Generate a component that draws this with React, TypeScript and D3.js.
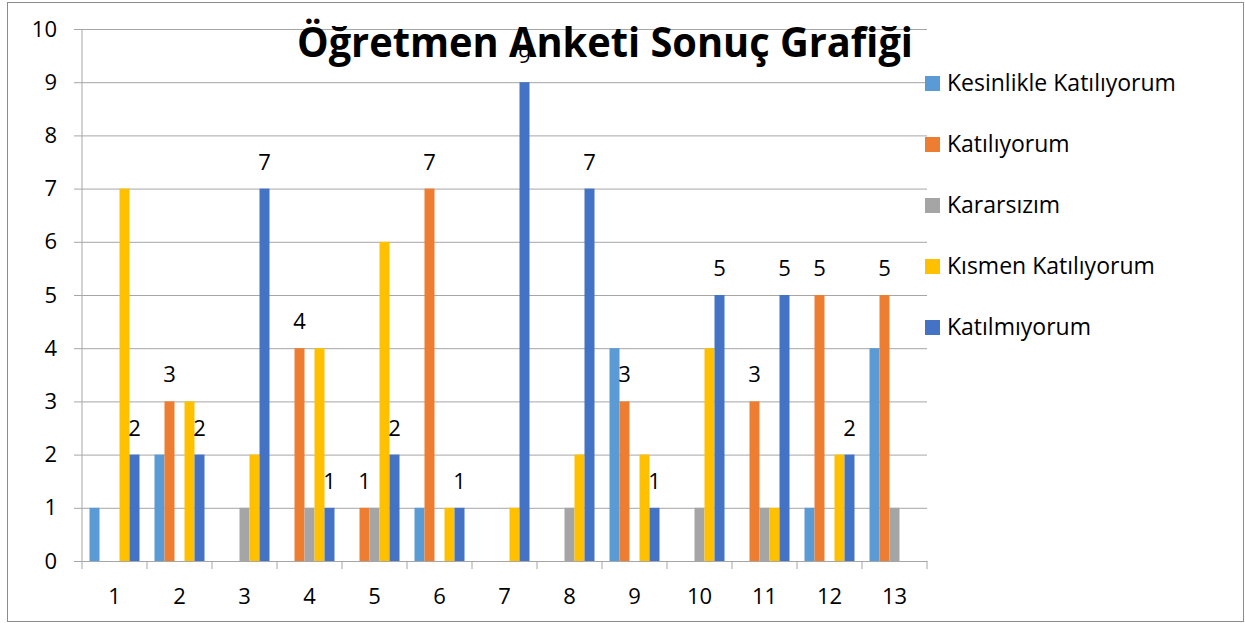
import React, { useEffect, useRef } from "react";
import * as d3 from "d3";

// kategoriler (soru numaraları)
const categories = ["1", "2", "3", "4", "5", "6", "7", "8", "9", "10", "11", "12", "13"];

const seriesNames = [
  "Kesinlikle Katılıyorum",
  "Katılıyorum",
  "Kararsızım",
  "Kısmen Katılıyorum",
  "Katılmıyorum",
];

const kesinlikleKatiliyorum = [1, 2, 0, 0, 0, 1, 0, 0, 4, 0, 0, 1, 4];
const katiliyorum = [0, 3, 0, 4, 1, 7, 0, 0, 3, 0, 3, 5, 5];
const kararsizim = [0, 0, 1, 1, 1, 0, 0, 1, 0, 1, 1, 0, 1];
const kismenKatiliyorum = [7, 3, 2, 4, 6, 1, 1, 2, 2, 4, 1, 2, 0];
const katilmiyorum = [2, 2, 7, 1, 2, 1, 9, 7, 1, 5, 5, 2, 0];

const yTicks = [0, 1, 2, 3, 4, 5, 6, 7, 8, 9, 10];

// sadece bu serilerde veri etiketi var
const labelledSeries = ["Katılıyorum", "Katılmıyorum"];

const colors = ["#5B9BD5", "#ED7D31", "#A5A5A5", "#FFC000", "#4472C4"];

const App = () => {
  const svgRef = useRef<SVGSVGElement>(null);

  useEffect(() => {
    document.body.style.margin = "0";
    const W = 1245;
    const H = 623;
    const plot = { left: 82, right: 927, top: 29, bottom: 561 };
    const font = "'Open Sans', sans-serif";
    const grid = "#A6A6A6";

    const values = [kesinlikleKatiliyorum, katiliyorum, kararsizim, kismenKatiliyorum, katilmiyorum];

    const svg = d3.select(svgRef.current);
    svg.selectAll("*").remove();
    svg.attr("width", W).attr("height", H);

    svg
      .append("rect")
      .attr("x", 7.5)
      .attr("y", 2.5)
      .attr("width", W - 9)
      .attr("height", 619)
      .attr("fill", "white")
      .attr("stroke", "#8C8C8C")
      .attr("stroke-width", 1);

    const x0 = d3.scaleBand().domain(categories).range([plot.left, plot.right]).padding(0);
    const x1 = d3
      .scaleBand()
      .domain(seriesNames)
      .range([7.5, x0.bandwidth() - 7.5])
      .padding(0);
    const y = d3.scaleLinear().domain([0, 10]).range([plot.bottom, plot.top]);

    // yatay ızgara çizgileri + y ekseni
    svg
      .append("g")
      .attr("transform", `translate(${plot.left},0)`)
      .call(d3.axisLeft(y).tickValues(yTicks).tickSize(8).tickPadding(17).tickFormat(d3.format("d")))
      .call((g) => g.select(".domain").remove())
      .call((g) =>
        g
          .selectAll(".tick line")
          .attr("stroke", grid)
          .attr("x1", -8)
          .attr("x2", plot.right - plot.left)
      )
      .call((g) =>
        g
          .selectAll(".tick text")
          .attr("font-family", font)
          .attr("font-size", 22)
          .attr("fill", "#000")
      );

    svg
      .append("line")
      .attr("x1", plot.left)
      .attr("x2", plot.left)
      .attr("y1", plot.top)
      .attr("y2", plot.bottom)
      .attr("stroke", grid);

    // x ekseni
    const xAxis = svg
      .append("g")
      .attr("transform", `translate(0,${plot.bottom})`)
      .call(d3.axisBottom(x0).tickSize(0).tickPadding(27))
      .call((g) => g.select(".domain").attr("stroke", grid))
      .call((g) =>
        g
          .selectAll(".tick text")
          .attr("font-family", font)
          .attr("font-size", 22)
          .attr("fill", "#000")
      );

    // kategori sınırlarındaki tik işaretleri
    xAxis
      .selectAll(".sep")
      .data(d3.range(categories.length + 1))
      .enter()
      .append("line")
      .attr("x1", (i) => plot.left + i * x0.bandwidth())
      .attr("x2", (i) => plot.left + i * x0.bandwidth())
      .attr("y1", 0)
      .attr("y2", 8)
      .attr("stroke", grid);

    // çubuklar
    seriesNames.forEach((name, si) => {
      const data = categories.map((c, ci) => ({ c, v: values[si][ci] }));
      const g = svg.append("g");
      g.selectAll("rect")
        .data(data.filter((d) => d.v > 0))
        .enter()
        .append("rect")
        .attr("x", (d) => (x0(d.c) as number) + (x1(name) as number))
        .attr("width", x1.bandwidth())
        .attr("y", (d) => y(d.v))
        .attr("height", (d) => y(0) - y(d.v))
        .attr("fill", colors[si]);
    });

    // başlık
    svg
      .append("text")
      .attr("x", 605)
      .attr("y", 57)
      .attr("text-anchor", "middle")
      .attr("font-family", font)
      .attr("font-weight", "bold")
      .attr("font-size", 42)
      .attr("textLength", 616)
      .attr("lengthAdjust", "spacingAndGlyphs")
      .attr("fill", "#000")
      .text("Öğretmen Anketi Sonuç Grafiği");

    // veri etiketleri
    seriesNames.forEach((name, si) => {
      if (!labelledSeries.includes(name)) return;
      const data = categories.map((c, ci) => ({ c, v: values[si][ci] }));
      svg
        .append("g")
        .selectAll("text")
        .data(data.filter((d) => d.v > 0))
        .enter()
        .append("text")
        .attr("x", (d) => (x0(d.c) as number) + (x1(name) as number) + x1.bandwidth() / 2)
        .attr("y", (d) => y(d.v) - 19)
        .attr("text-anchor", "middle")
        .attr("font-family", font)
        .attr("font-size", 22)
        .attr("fill", "#000")
        .text((d) => d.v);
    });

    // lejant
    const legend = svg
      .append("g")
      .selectAll("g")
      .data(seriesNames)
      .enter()
      .append("g")
      .attr("transform", (d, i) => `translate(925,${83 + i * 61})`);

    legend
      .append("rect")
      .attr("x", 0)
      .attr("y", -7)
      .attr("width", 15)
      .attr("height", 15)
      .attr("fill", (d, i) => colors[i]);

    legend
      .append("text")
      .attr("x", 22)
      .attr("y", 8)
      .attr("font-family", font)
      .attr("font-size", 23)
      .attr("fill", "#000")
      .text((d) => d);
  }, []);

  return <svg ref={svgRef} style={{ position: "absolute", left: 0, top: 0 }} />;
};

export default App;
